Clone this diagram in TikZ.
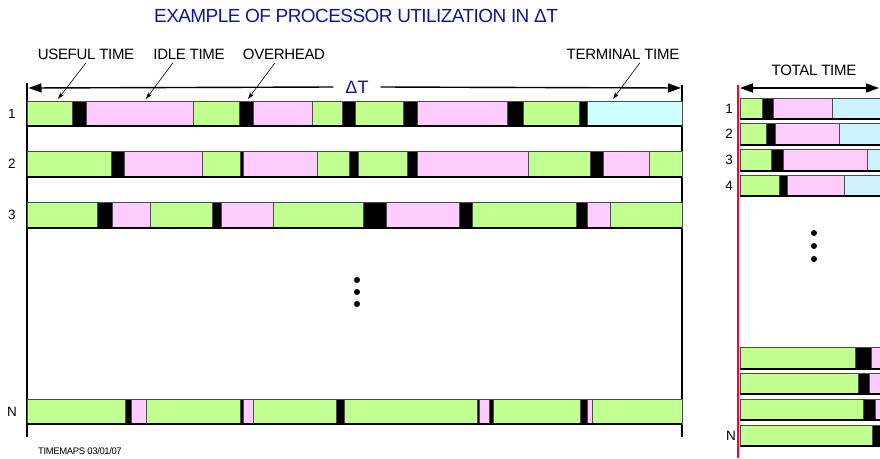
\documentclass[tikz,border=0pt]{standalone}
\usepackage{fontspec}
\setmainfont{Liberation Sans}
\usetikzlibrary{arrows.meta}

\begin{document}
\begin{tikzpicture}[x=1pt,y=-1pt,
  seg/.style={draw=black!70,line width=0.6pt},
  useful/.style={seg,fill=usefulc},
  idle/.style={seg,fill=idlec},
  ovh/.style={seg,fill=black},
  term/.style={seg,fill=termc},
  rterm/.style={seg,fill=rtermc},
  rowlbl/.style={font=\fontsize{13.5}{16}\selectfont},
  toplbl/.style={font=\fontsize{15}{18}\selectfont\addfontfeatures{LetterSpace=-2}},
  ptr/.style={-{Stealth[length=7pt,width=4.5pt]},line width=0.6pt},
  spanline/.style={line width=1.4pt}]

  % Define colors
  \definecolor{usefulc}{RGB}{192,255,144}  % green
  \definecolor{idlec}{RGB}{255,204,255}    % pink
  \definecolor{termc}{RGB}{204,255,255}    % pale cyan
  \definecolor{rtermc}{RGB}{204,242,255}   % pale blue
  \definecolor{titleblue}{RGB}{20,20,150}
  \definecolor{axisred}{RGB}{250,0,55}

  \useasboundingbox (0,0) rectangle (880,458);

  % title
  \node[titleblue,font=\fontsize{19}{22}\selectfont\addfontfeatures{LetterSpace=-3}] (title) at (356,16)
    {EXAMPLE OF PROCESSOR UTILIZATION IN ΔT};

  % ----- left panel: delta T window -----
  \draw[line width=2.4pt] (27,83) -- (27,437);
  \draw[line width=2pt] (682,85) -- (682,437);

  % delta T span
  \node[titleblue,font=\fontsize{18}{20}\selectfont,inner xsep=12pt] (dT) at (357,87) {ΔT};
  \coordinate (dTl) at (28.5,88);
  \coordinate (dTr) at (681,88);
  \draw[spanline,-{Triangle[length=13pt,width=9pt]}] (dT.west) -- (dTl);
  \draw[spanline,-{Triangle[length=13pt,width=9pt]}] (dT.east) -- (dTr);

  % row 1
  \foreach \xa/\xb/\kind in {27/72/useful,72/86/ovh,86/193/idle,193/239/useful,239/253/ovh,
      253/312/idle,312/342/useful,342/355/ovh,355/403/useful,403/417/ovh,417/507/idle,
      507/523/ovh,523/579/useful,579/587/ovh,587/682/term}
    \filldraw[\kind] (\xa,101) rectangle (\xb,126);
  \draw[line width=1.4pt] (27,126) -- (682,126);

  % row 2
  \foreach \xa/\xb/\kind in {27/111/useful,111/124/ovh,124/202/idle,202/240/useful,240/243/ovh,
      243/317/idle,317/349/useful,349/358/ovh,358/407/useful,407/417/ovh,417/528/idle,
      528/590/useful,590/603/ovh,603/649/idle,649/682/useful}
    \filldraw[\kind] (\xa,151) rectangle (\xb,177);
  \draw[line width=1.4pt] (27,177) -- (682,177);

  % row 3
  \foreach \xa/\xb/\kind in {27/97/useful,97/112/ovh,112/150/idle,150/212/useful,212/221/ovh,
      221/273/idle,273/363/useful,363/386/ovh,386/459/idle,459/472/ovh,472/576/useful,
      576/587/ovh,587/610/idle,610/682/useful}
    \filldraw[\kind] (\xa,202) rectangle (\xb,228);
  \draw[line width=1.4pt] (27,228) -- (682,228);

  % row N
  \foreach \xa/\xb/\kind in {27/125/useful,125/131/ovh,131/146/idle,146/240/useful,240/243/ovh,
      243/253/idle,253/336/useful,336/344/ovh,344/477/useful,477/479/ovh,479/489/idle,
      489/493/ovh,493/580/useful,580/587/ovh,587/592/idle,592/682/useful}
    \filldraw[\kind] (\xa,399) rectangle (\xb,424);
  \draw[line width=1.4pt] (27,424) -- (682,424);

  % row numbers
  \node[rowlbl] (l1) at (12,113.5) {1};
  \node[rowlbl] (l2) at (12,164) {2};
  \node[rowlbl] (l3) at (12,215) {3};
  \node[rowlbl] (lN) at (12,411.5) {N};

  % more rows
  \foreach \yy in {280,292,304}
    \fill (357,\yy) circle (3);

  % legend labels with pointers
  \node[toplbl] (usef) at (86,54) {USEFUL TIME};
  \node[toplbl] (idlt) at (189,54) {IDLE TIME};
  \node[toplbl] (ovhd) at (284,54) {OVERHEAD};
  \node[toplbl] (trmt) at (623,54) {TERMINAL TIME};
  \coordinate (usefT) at (58,99);
  \coordinate (idltT) at (146,99);
  \coordinate (ovhdT) at (248,99);
  \coordinate (trmtT) at (613,99);
  \draw[ptr] (usef.south) -- (usefT);
  \draw[ptr] ([xshift=-16pt]idlt.south) -- (idltT);
  \draw[ptr] ([xshift=-9pt]ovhd.south) -- (ovhdT);
  \draw[ptr] ([xshift=17pt]trmt.south) -- (trmtT);

  % date stamp
  \node[font=\fontsize{9.5}{11}\selectfont\addfontfeatures{LetterSpace=-4}] (stamp) at (80,451)
    {TIMEMAPS 03/01/07};

  % ----- right panel: total time -----
  \node[toplbl] (totl) at (814,70) {TOTAL TIME};
  \coordinate (tl) at (740,88);
  \coordinate (tr) at (879,88);
  \draw[spanline,{Triangle[length=13pt,width=9pt]}-{Triangle[length=13pt,width=9pt]}] (tl) -- (tr);

  \foreach \ya/\yb/\list in {
      98/119/{740/762/useful,762/773/ovh,773/832/idle,832/882/rterm},
      123/145/{740/766/useful,766/775/ovh,775/839/idle,839/882/rterm},
      149/171/{740/771/useful,771/783/ovh,783/867/idle,867/882/rterm},
      175/196/{740/779/useful,779/787/ovh,787/844/idle,844/882/rterm},
      347/369/{740/855/useful,855/871/ovh,871/882/idle},
      373/394/{740/858/useful,858/869/ovh,869/882/idle},
      399/420/{740/863/useful,863/875/ovh,875/882/idle},
      425/446/{740/872/useful,872/882/ovh}} {
    \foreach \xa/\xb/\kind in \list
      \filldraw[\kind] (\xa,\ya) rectangle (\xb,\yb);
    \draw[line width=1.2pt] (740,\yb) -- (882,\yb);
  }

  \node[rowlbl] (r1) at (729,108.5) {1};
  \node[rowlbl] (r2) at (729,134) {2};
  \node[rowlbl] (r3) at (729,160) {3};
  \node[rowlbl] (r4) at (729,185.5) {4};
  \node[rowlbl] (rN) at (731,435.5) {N};

  \foreach \yy in {233,246,259}
    \fill (814,\yy) circle (3);

  % red time axis
  \draw[axisred,line width=2.8pt] (738,85) -- (738,458);

\end{tikzpicture}
\end{document}
